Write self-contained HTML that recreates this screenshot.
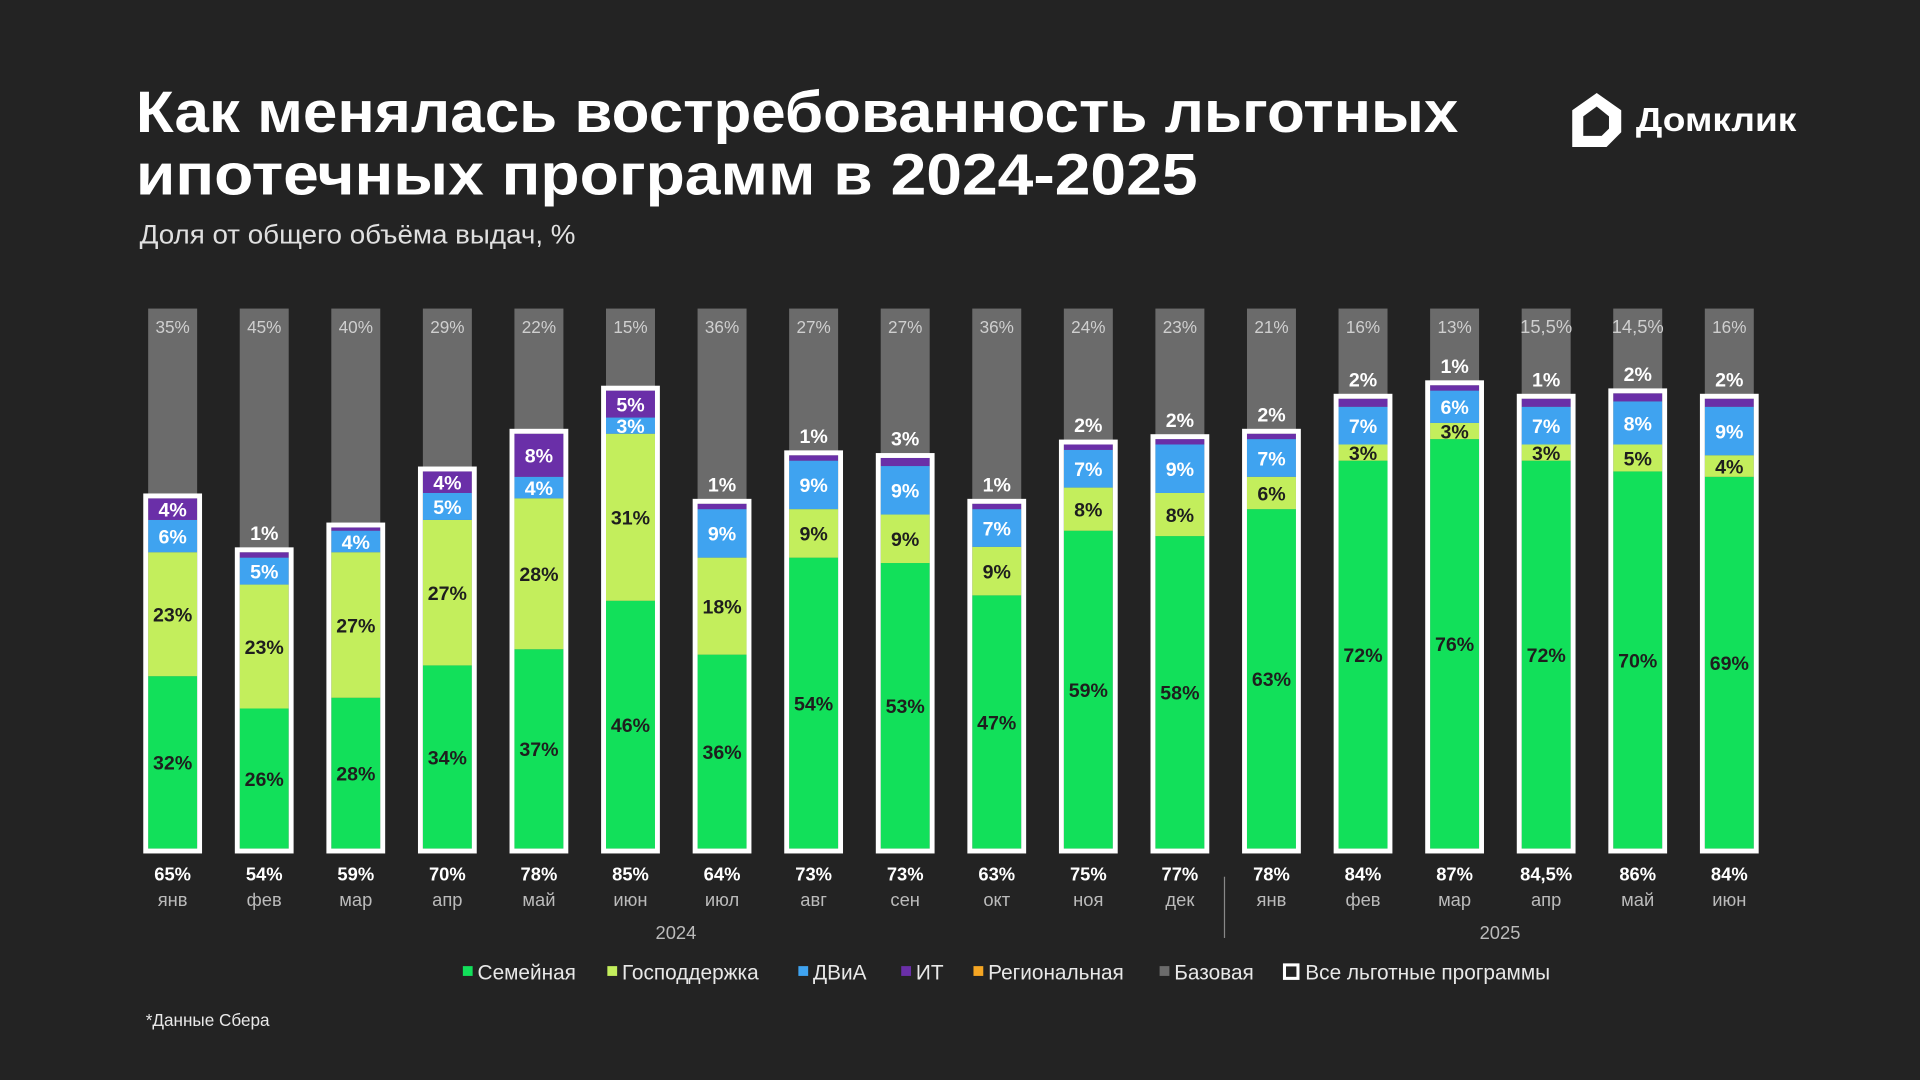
<!DOCTYPE html>
<html><head><meta charset="utf-8">
<style>
html,body{margin:0;padding:0;background:#232323;}
svg{display:block;font-family:"Liberation Sans","DejaVu Sans",sans-serif;}
</style></head>
<body>
<svg id="s" width="1920" height="1080" viewBox="0 0 1568 882" xmlns="http://www.w3.org/2000/svg">
<rect width="1568" height="882" fill="#232323"/>
<text x="111" y="108" fill="#fff" font-size="48" font-weight="bold" textLength="1080" lengthAdjust="spacingAndGlyphs">Как менялась востребованность льготных</text>
<text x="111" y="159" fill="#fff" font-size="48" font-weight="bold" textLength="867" lengthAdjust="spacingAndGlyphs">ипотечных программ в 2024-2025</text>
<text x="114" y="199" fill="#e0e0e0" font-size="22" textLength="356" lengthAdjust="spacingAndGlyphs">Доля от общего объёма выдач, %</text>
<path d="M1284 90 L1304 76 L1324 90 L1324 108 L1312 120 L1284 120 Z M1293 95 L1293 111 L1308 111 L1314 105 L1314 95 L1304 87 Z" fill="#fff" fill-rule="evenodd"/>
<text x="1336" y="107" fill="#fff" font-size="27" font-weight="bold" textLength="131" lengthAdjust="spacingAndGlyphs">Домклик</text>
<g id="bars"></g>
<line x1="1000" y1="716" x2="1000" y2="766" stroke="#888" stroke-width="1"/>
<text x="552" y="767" fill="#bbb" font-size="15" text-anchor="middle">2024</text>
<text x="1225" y="767" fill="#bbb" font-size="15" text-anchor="middle">2025</text>
<g font-size="17" fill="#e8e8e8">
<rect x="378" y="789" width="8" height="8" fill="#12e05a"/><text x="390" y="800">Семейная</text>
<rect x="496" y="789" width="8" height="8" fill="#c3ee5c"/><text x="508" y="800">Господдержка</text>
<rect x="652" y="789" width="8" height="8" fill="#3fa3f0"/><text x="664" y="800">ДВиА</text>
<rect x="736" y="789" width="8" height="8" fill="#6a2fa8"/><text x="748" y="800">ИТ</text>
<rect x="795" y="789" width="8" height="8" fill="#f5a623"/><text x="807" y="800">Региональная</text>
<rect x="947" y="789" width="8" height="8" fill="#6b6b6b"/><text x="959" y="800">Базовая</text>
<rect x="1049" y="788" width="11" height="11" fill="none" stroke="#fff" stroke-width="2.5"/><text x="1066" y="800">Все льготные программы</text>
</g>
<text x="119" y="838" fill="#e8e8e8" font-size="14">*Данные Сбера</text>
</svg>
<script>
var D=[
["янв",32,23,6,4,"35%","65%","",1],["фев",26,23,5,1,"45%","54%","1%",1],["мар",28,27,4,0.6,"40%","59%","",1],
["апр",34,27,5,4,"29%","70%","",1],["май",37,28,4,8,"22%","78%","",1],["июн",46,31,3,5,"15%","85%","",1],
["июл",36,18,9,1,"36%","64%","1%",1],["авг",54,9,9,1,"27%","73%","1%",1],["сен",53,9,9,1.5,"27%","73%","3%",1],
["окт",47,9,7,1,"36%","63%","1%",1],["ноя",59,8,7,1,"24%","75%","2%",1],["дек",58,8,9,1,"23%","77%","2%",1],
["янв",63,6,7,1,"21%","78%","2%",1],["фев",72,3,7,1.5,"16%","84%","2%",1],["мар",76,3,6,1,"13%","87%","1%",1],
["апр",72,3,7,1.5,"15,5%","84,5%","1%",1],["май",70,5,8,1.5,"14,5%","86%","2%",1],["июн",69,4,9,1.5,"16%","84%","2%",1]];
var g=document.getElementById("bars"),h="",B=693,k=4.4;
function r(x,y,w,hh,c){return '<rect x="'+x+'" y="'+y+'" width="'+w+'" height="'+hh+'" fill="'+c+'"/>';}
function t(x,y,s,c,sz,fw){return '<text x="'+x+'" y="'+y+'" fill="'+c+'" font-size="'+sz+'" font-weight="'+(fw||"normal")+'" text-anchor="middle">'+s+'</text>';}
D.forEach(function(d,i){
 var cx=141+i*74.78,x=cx-20;
 h+=r(x,252,40,B-252,"#6b6b6b");
 h+=t(cx,272,d[5],"#cfcfcf",d[5].length>3?15:14);
 var y=B,cols=["#12e05a","#c3ee5c","#3fa3f0","#6a2fa8"],tc=["#1e1e1e","#1e1e1e","#fff","#fff"];
 var segs=[];
 for(var j=0;j<4;j++){var hh=d[j+1]*k;y-=hh;segs.push([y,hh]);h+=r(x,y,40,hh,cols[j]);}
 var top=y;
 h+='<rect x="'+(x-2)+'" y="'+(top-2)+'" width="44" height="'+(B-top+4)+'" fill="none" stroke="#fff" stroke-width="4"/>';
 for(var j=0;j<4;j++){var v=d[j+1];if(v>=3){h+=t(cx,segs[j][0]+segs[j][1]/2+6,v+"%",tc[j],16,"bold");}}
 if(d[7])h+=t(cx,top-10,d[7],"#fff",16,"bold");
 h+=t(cx,719,d[6],"#fff",15,"bold");
 h+=t(cx,740,d[0],"#bbb",15);
});
g.innerHTML=h;
</script>
</body></html>
